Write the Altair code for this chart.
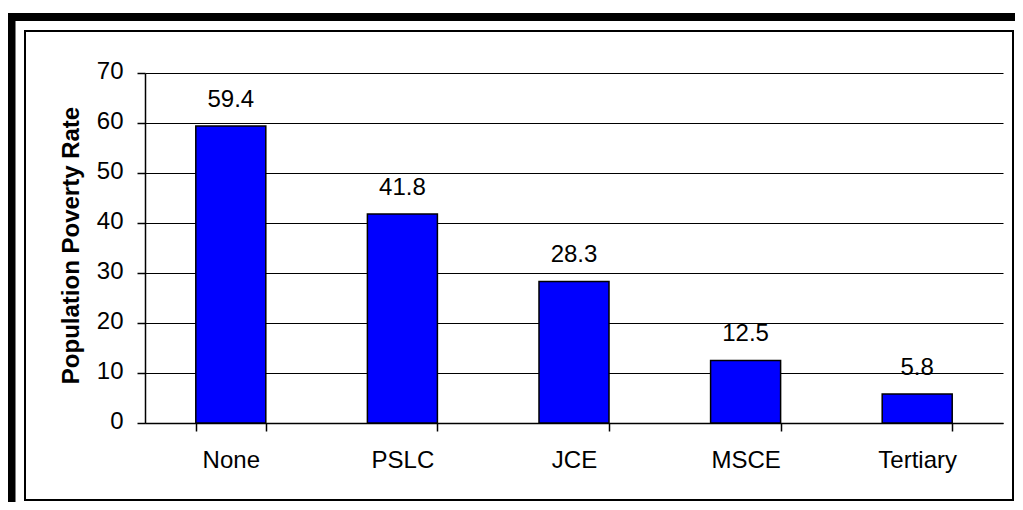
import altair as alt
import pandas as pd

categories = ["None", "PSLC", "JCE", "MSCE", "Tertiary"]
rates = [59.4, 41.8, 28.3, 12.5, 5.8]
y_ticks = [0, 10, 20, 30, 40, 50, 60, 70]
y_title = "Population Poverty Rate"

df = pd.DataFrame({"category": categories, "rate": rates})
df["label"] = [f"{v:.1f}" for v in rates]

W, H = 858, 350
FONT = "Liberation Sans"

x = alt.X(
    "category:N", sort=categories, title=None,
    scale=alt.Scale(paddingInner=0.592, paddingOuter=0.296),
    axis=alt.Axis(labelAngle=0, labelFontSize=24, labelFont=FONT, labelColor="black",
                  tickBand="extent", tickSize=8, tickColor="black", tickWidth=1.5,
                  domainColor="black", domainWidth=1.5, labelPadding=36,
                  labelBaseline="alphabetic", grid=False),
)
y = alt.Y(
    "rate:Q", scale=alt.Scale(domain=[0, 70], nice=False),
    axis=alt.Axis(values=y_ticks, title=y_title, titleFont=FONT, titleFontSize=24,
                  titleFontWeight="bold", titleColor="black", titleAngle=-90,
                  titleX=-67, titleY=172, titleAlign="center", titleBaseline="alphabetic",
                  labelFontSize=24, labelFont=FONT, labelColor="black", labelPadding=14,
                  labelOffset=-2,
                  tickSize=8, tickColor="black", tickWidth=1.5,
                  domainColor="black", domainWidth=1.5,
                  grid=True, gridColor="black", gridWidth=1, gridOpacity=1),
)

bars = alt.Chart(df).mark_bar(color="#0000FF", stroke="black", strokeWidth=1.5).encode(x=x, y=y)
labels = alt.Chart(df).mark_text(dy=-19.5, baseline="alphabetic", fontSize=24, font=FONT,
                                 color="black").encode(x=x, y=y, text="label:N")

frame_df = pd.DataFrame({"k": [0]})
outer = alt.Chart(frame_df).mark_rect(filled=False, stroke="black", strokeWidth=8).encode(
    x=alt.value(-133.5), x2=alt.value(884), y=alt.value(-56), y2=alt.value(445))
inner = alt.Chart(frame_df).mark_rect(filled=False, stroke="black", strokeWidth=2).encode(
    x=alt.value(-120), x2=alt.value(868), y=alt.value(-42), y2=alt.value(427))

chart = alt.layer(outer, inner, bars, labels).properties(
    width=W, height=H,
    padding={"left": 137, "top": 65, "right": 12, "bottom": 79},
    autosize=alt.AutoSizeParams(type="none"),
    background="white",
).configure_view(stroke=None)

chart.save("out.html", embed_options={"renderer": "svg", "actions": False})
